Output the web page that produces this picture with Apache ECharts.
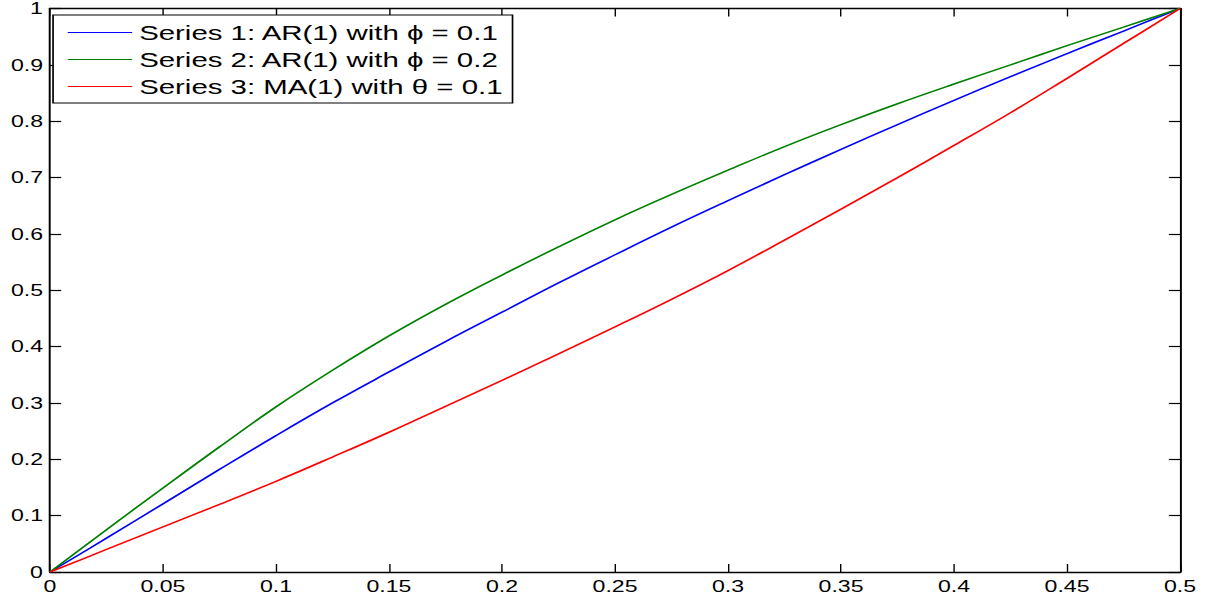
<!DOCTYPE html>
<html>
<head>
<meta charset="utf-8">
<script src="https://cdn.jsdelivr.net/npm/echarts@6/dist/echarts.min.js"></script>
<style>
  html, body { margin: 0; padding: 0; background: #fff; overflow: hidden; }
  /* The figure is drawn narrower and widened horizontally, giving the stretched look of the exported plot */
  #wrap { width: 1211px; height: 601px; overflow: hidden; }
  #chart { width: 865px; height: 601px; transform: scaleX(1.4); transform-origin: 0 0; }
</style>
</head>
<body>
<div id="wrap"><div id="chart"></div></div>
<script>
// Frequency grid (cycles per sample) from 0 to 0.5
const freqs = [0, 0.025, 0.05, 0.075, 0.1, 0.125, 0.15, 0.175, 0.2, 0.225, 0.25,
               0.275, 0.3, 0.325, 0.35, 0.375, 0.4, 0.425, 0.45, 0.475, 0.5];

// Normalized cumulative spectra
const ar01 = [0, 0.060, 0.121, 0.182, 0.242, 0.300, 0.355, 0.409, 0.461, 0.513, 0.563,
              0.612, 0.659, 0.705, 0.750, 0.794, 0.837, 0.879, 0.920, 0.960, 1];
const ar02 = [0, 0.075, 0.149, 0.222, 0.293, 0.358, 0.419, 0.475, 0.527, 0.577, 0.625,
              0.670, 0.713, 0.755, 0.794, 0.831, 0.866, 0.900, 0.934, 0.967, 1];
const ma01 = [0, 0.040, 0.080, 0.120, 0.161, 0.204, 0.248, 0.294, 0.340, 0.387, 0.435,
              0.484, 0.535, 0.589, 0.644, 0.700, 0.757, 0.815, 0.876, 0.938, 1];

const seriesNames = [
  'Series 1: AR(1) with \u03D5 = 0.1',
  'Series 2: AR(1) with \u03D5 = 0.2',
  'Series 3: MA(1) with \u03B8 = 0.1'
];
const seriesColors = ['#0000ff', '#008000', '#ff0000'];
const seriesData = [ar01, ar02, ma01];

const xTicks = [0, 0.05, 0.1, 0.15, 0.2, 0.25, 0.3, 0.35, 0.4, 0.45, 0.5];
const yTicks = [0, 0.1, 0.2, 0.3, 0.4, 0.5, 0.6, 0.7, 0.8, 0.9, 1];

const fontFam = '"Liberation Sans", Arial, Helvetica, sans-serif';
const fmt = v => String(+v.toFixed(2));

function axis(extra) {
  return Object.assign({
    type: 'value',
    splitLine: { show: false },
    axisLine: { show: true, onZero: false, lineStyle: { color: '#000', width: 1.4 } },
    axisTick: { show: true, inside: true, length: 8, lineStyle: { color: '#000', width: 1 } }
  }, extra);
}

const chart = echarts.init(document.getElementById('chart'), null, { renderer: 'svg' });
chart.setOption({
  animation: false,
  backgroundColor: '#fff',
  grid: { left: 35.7, right: 22.1, top: 7, bottom: 29, containLabel: false },
  xAxis: [
    axis({
      min: xTicks[0], max: xTicks[xTicks.length - 1], interval: 0.05, position: 'bottom',
      axisLabel: { color: '#000', fontSize: 16.5, fontFamily: fontFam, margin: 6, formatter: fmt }
    }),
    axis({
      min: xTicks[0], max: xTicks[xTicks.length - 1], interval: 0.05, position: 'top',
      axisLabel: { show: false }
    })
  ],
  yAxis: [
    axis({
      min: yTicks[0], max: yTicks[yTicks.length - 1], interval: 0.1, position: 'left',
      axisTick: { show: true, inside: true, length: 8, lineStyle: { color: '#000', width: 1.2 } },
      axisLabel: { color: '#000', fontSize: 16.5, fontFamily: fontFam, margin: 5, formatter: fmt }
    }),
    axis({
      min: yTicks[0], max: yTicks[yTicks.length - 1], interval: 0.1, position: 'right',
      axisTick: { show: true, inside: true, length: 8, lineStyle: { color: '#000', width: 1.2 } },
      axisLabel: { show: false }
    })
  ],
  legend: {
    orient: 'vertical',
    left: 37.9,
    top: 15,
    padding: [7, 7, 6, 10],
    itemGap: 6,
    itemWidth: 46,
    itemHeight: 22,
    backgroundColor: '#fff',
    borderColor: '#000',
    borderWidth: 1.2,
    borderRadius: 0,
    itemStyle: { opacity: 0 },
    lineStyle: { width: 1 },
    textStyle: { color: '#000', fontSize: 21, fontFamily: fontFam },
    data: seriesNames
  },
  series: seriesNames.map((name, i) => ({
    name: name,
    type: 'line',
    xAxisIndex: 0,
    yAxisIndex: 0,
    symbol: 'none',
    smooth: 0.4,
    color: seriesColors[i],
    lineStyle: { color: seriesColors[i], width: 1.5 },
    data: freqs.map((f, k) => [f, seriesData[i][k]])
  }))
});
</script>
</body>
</html>
